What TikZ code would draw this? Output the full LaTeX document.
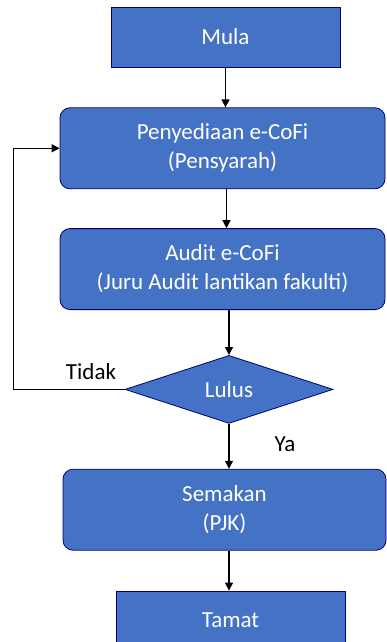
\documentclass[tikz,border=0pt]{standalone}
\usepackage{fontspec}
\setmainfont{Carlito}
\usetikzlibrary{arrows.meta,positioning,shapes.geometric}

\begin{document}
\begin{tikzpicture}[x=1pt,y=1pt,->,>={Triangle[length=8pt,width=8pt]},line width=1.2pt,
  font=\fontsize{23}{29}\selectfont,
  flow/.style={draw=blue!45!black,line width=0.8pt,fill=boxblue,text=white,align=center,inner sep=0pt},
  ends/.style={flow,rectangle,minimum width=229pt,minimum height=60pt},
  stepbox/.style={flow,rectangle,rounded corners=10pt,minimum width=325pt,minimum height=81pt},
  decide/.style={flow,diamond,aspect=3,minimum width=208pt,minimum height=68pt}]
  \definecolor{boxblue}{HTML}{4472C4}
  \useasboundingbox (0,0) rectangle (387,-642);
  \node (mula) [ends] at (225.5,-37) {Mula};
  \node (penyediaan) [stepbox,below=40pt of mula,xshift=-3pt] {Penyediaan e-CoFi\\(Pensyarah)};
  \node (audit) [stepbox,below=39pt of penyediaan] {Audit e-CoFi\\(Juru Audit lantikan fakulti)};
  \node (lulus) [decide,below=45pt of audit,xshift=6.5pt] {Lulus};
  \node (semakan) [stepbox,minimum width=323pt,below=45pt of lulus,xshift=-4.5pt] {Semakan\\(PJK)};
  \node (tamat) [ends,minimum height=70pt,below=40pt of semakan,xshift=6pt] {};
  \node at ([yshift=-30pt]tamat.north) [text=white] {Tamat};
  \node (tidak) [anchor=south east,inner sep=0pt] at ([xshift=-8pt,yshift=9pt]lulus.west) {Tidak};
  \node (ya) [anchor=west,inner sep=0pt] at ([xshift=45pt,yshift=-20pt]lulus.south) {Ya};
\path[->] (mula) edge (mula |- penyediaan.north)
  ([xshift=4pt]penyediaan.south) edge ([xshift=4pt]penyediaan.south |- audit.north)
  (lulus.north |- audit.south) edge (lulus.north)
  (lulus.south) edge (lulus.south |- semakan.north)
  (lulus.south |- semakan.south) edge (lulus.south |- tamat.north);
\draw[->] (lulus.west) -| ([xshift=-46pt]penyediaan.west) -- (penyediaan.west);
\end{tikzpicture}
\end{document}
